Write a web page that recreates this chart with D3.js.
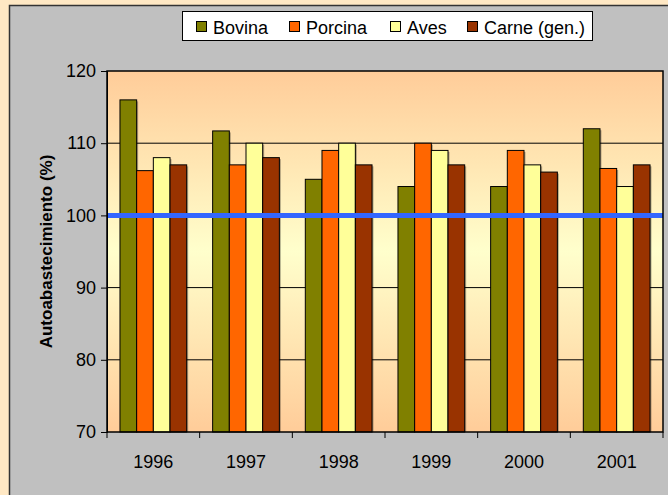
<!DOCTYPE html>
<html><head><meta charset="utf-8">
<script src="https://cdn.jsdelivr.net/npm/d3@7"></script>
<style>body{margin:0;padding:0;background:#FFE8C4;}svg{display:block;}</style>
</head><body>
<svg id="chart" width="668" height="495"></svg>
<script>
const years = ["1996","1997","1998","1999","2000","2001"];
const seriesNames = ["Bovina","Porcina","Aves","Carne (gen.)"];
const seriesColors = ["#808000","#FF6600","#FFFF99","#993300"];
const bovina = [116, 111.7, 105, 104, 104, 112];
const porcina = [106.2, 107, 109, 110, 109, 106.5];
const aves = [108, 110, 110, 109, 107, 104];
const carne = [107, 108, 107, 107, 106, 107];
const yTicks = [70, 80, 90, 100, 110, 120];
const refValue = 100;

const allSeries = [bovina, porcina, aves, carne];
const svg = d3.select("#chart");
const font = "Arial, 'Liberation Sans', sans-serif";

svg.append("rect").attr("x", 0).attr("y", 0).attr("width", 668).attr("height", 495).attr("fill", "#FFE8C4");
svg.append("rect").attr("x", 9.5).attr("y", 5.5).attr("width", 700).attr("height", 600)
  .attr("fill", "#C0C0C0").attr("stroke", "#333").attr("stroke-width", 1.5);

const m = {left: 107, right: 663, top: 71, bottom: 432};
const x = d3.scaleBand().domain(years).range([m.left, m.right]).paddingInner(0).paddingOuter(0);
const y = d3.scaleLinear().domain([70, 120]).range([m.bottom, m.top]);
const groupPad = 0.28;
const x1 = d3.scaleBand().domain(d3.range(4)).range([x.bandwidth()*groupPad/2, x.bandwidth()*(1-groupPad/2)]);

const defs = svg.append("defs");
const grad = defs.append("linearGradient").attr("id", "bg").attr("x1", 0).attr("y1", 0).attr("x2", 0).attr("y2", 1);
grad.append("stop").attr("offset", "0%").attr("stop-color", "#FFCC99");
grad.append("stop").attr("offset", "50%").attr("stop-color", "#FFFFCC");
grad.append("stop").attr("offset", "100%").attr("stop-color", "#FFCC99");

svg.append("rect").attr("x", m.left).attr("y", m.top).attr("width", m.right - m.left).attr("height", m.bottom - m.top)
  .attr("fill", "url(#bg)");

svg.append("g").selectAll("line").data(yTicks.filter(t => t !== 70 && t !== 120)).join("line")
  .attr("x1", m.left).attr("x2", m.right).attr("y1", d => y(d)).attr("y2", d => y(d))
  .attr("stroke", "#000").attr("stroke-width", 1);

const groups = svg.append("g").selectAll("g").data(years).join("g")
  .attr("transform", d => `translate(${x(d)},0)`);
groups.selectAll("rect.sh").data((d, i) => allSeries.map((s, k) => ({k, v: s[i]}))).join("rect")
  .attr("class", "sh")
  .attr("x", d => x1(d.k) + 1.5).attr("y", d => y(d.v) + 1.5)
  .attr("width", x1.bandwidth()).attr("height", d => y(70) - y(d.v) - 1.5)
  .attr("fill", "rgba(0,0,0,0.3)");
groups.selectAll("rect.bar").data((d, i) => allSeries.map((s, k) => ({k, v: s[i]}))).join("rect")
  .attr("class", "bar")
  .attr("x", d => x1(d.k)).attr("y", d => y(d.v))
  .attr("width", x1.bandwidth()).attr("height", d => y(70) - y(d.v))
  .attr("fill", d => seriesColors[d.k]).attr("stroke", "#000").attr("stroke-width", 1);

svg.append("line").attr("x1", m.left).attr("x2", m.right).attr("y1", y(refValue)).attr("y2", y(refValue))
  .attr("stroke", "#3366FF").attr("stroke-width", 5);

svg.append("rect").attr("x", m.left).attr("y", m.top).attr("width", m.right - m.left).attr("height", m.bottom - m.top)
  .attr("fill", "none").attr("stroke", "#000").attr("stroke-width", 1.5);

const yAxis = svg.append("g").attr("transform", `translate(${m.left},0)`)
  .call(d3.axisLeft(y).tickValues(yTicks).tickSize(6).tickPadding(5));
yAxis.select(".domain").attr("stroke", "#000");
yAxis.selectAll("text").attr("font-family", font).attr("font-size", 18).attr("fill", "#000");

const xAxis = svg.append("g").attr("transform", `translate(0,${m.bottom})`)
  .call(d3.axisBottom(x).tickSize(0).tickPadding(0));
xAxis.select(".domain").remove();
xAxis.selectAll("text").attr("font-family", font).attr("font-size", 18).attr("fill", "#000")
  .attr("dy", null).attr("y", 36);
svg.append("g").selectAll("line").data(d3.range(years.length + 1)).join("line")
  .attr("x1", i => m.left + i * x.step()).attr("x2", i => m.left + i * x.step())
  .attr("y1", m.bottom).attr("y2", m.bottom + 6).attr("stroke", "#000");

svg.append("text").attr("transform", `translate(52,${(m.top + m.bottom)/2}) rotate(-90)`)
  .attr("text-anchor", "middle").attr("font-family", font).attr("font-size", 17).attr("font-weight", "bold")
  .text("Autoabastecimiento (%)");

const lg = svg.append("g");
lg.append("rect").attr("x", 182.5).attr("y", 11.5).attr("width", 410).attr("height", 29)
  .attr("fill", "#fff").attr("stroke", "#000").attr("stroke-width", 1);
const legX = [196, 289, 390, 467];
seriesNames.forEach((n, k) => {
  lg.append("rect").attr("x", legX[k] + 0.5).attr("y", 21.5).attr("width", 10).attr("height", 10)
    .attr("fill", seriesColors[k]).attr("stroke", "#000");
  lg.append("text").attr("x", legX[k] + 17).attr("y", 34).attr("font-family", font).attr("font-size", 18)
    .attr("fill", "#000").text(n);
});
</script>
</body></html>
